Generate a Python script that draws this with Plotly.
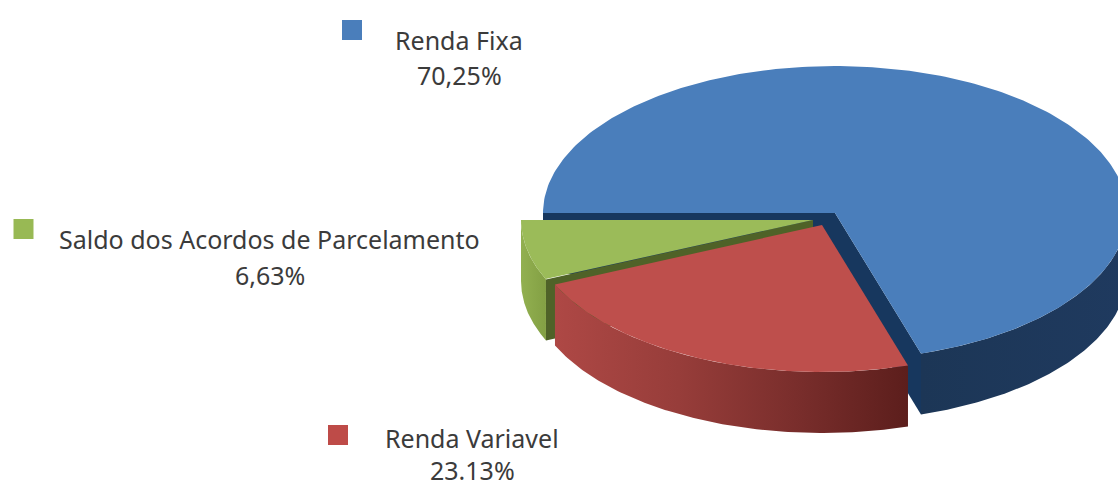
import numpy as np
import plotly.graph_objects as go

# Data
categories = ["Renda Fixa", "Renda Variavel", "Saldo dos Acordos de Parcelamento"]
values = [70.25, 23.13, 6.63]
value_labels = ["70,25%", "23.13%", "6,63%"]

# Pie geometry and styles (pixels of the 1118x482 page)
W, H = 1118, 482
RX, RY, DEPTH = 292, 147, 61
START_DEG = 270
centres = [(835, 213), (822, 225), (813, 220)]
top_cols = ["#4A7EBB", "#BE4F4C", "#9BBB59"]
swatch_cols = ["#4A7EBB", "#BE4B48", "#98B954"]
side_scales = [
    [[0, "#1C3656"], [1, "#1F3A5F"]],
    [[0, "#AE4845"], [0.35, "#973D3A"], [0.7, "#782D2B"], [1, "#5C1E1C"]],
    [[0, "#92B050"], [1, "#83A044"]],
]
cut_cols = ["#17375E", None, "#4F6228"]
swatch_pos = [(352, 30), (338, 435), (23.5, 229)]
label_pos = [(459, 40, 75), (472, 438, 470), (269.5, 239, 275)]
FONT = dict(family="Noto Sans", size=25, color="#3B3B3B")

fractions = np.array(values) / np.sum(values)
edges = np.radians(START_DEG + 360 * np.concatenate([[0], np.cumsum(fractions)]))


def ell(c, a):
    a = np.asarray(a, dtype=float)
    return c[0] + RX * np.sin(a), c[1] - RY * np.cos(a)


def poly(fig, xs, ys, color=None, scale=None):
    kw = dict(x=xs, y=ys, mode="lines", fill="toself", line=dict(width=0),
              hoverinfo="skip", showlegend=False)
    if scale is not None:
        kw["fillgradient"] = dict(type="horizontal", colorscale=scale)
    else:
        kw["fillcolor"] = color
    fig.add_trace(go.Scatter(**kw))


def front_side(fig, c, a0, a1, scale):
    # outer wall: only the part of the arc between 90 and 270 deg faces the viewer
    lo = np.radians(90)
    hi = np.radians(270)
    ranges = []
    for shift in (0, 2 * np.pi, -2 * np.pi):
        s, e = max(a0 + shift, lo), min(a1 + shift, hi)
        if e > s:
            ranges.append((s, e))
    for s, e in ranges:
        t = np.linspace(s, e, 120)
        x, y = ell(c, t)
        poly(fig, np.r_[x, x[::-1]], np.r_[y, y[::-1] + DEPTH], scale=scale)


def cut_face(fig, c, a, color):
    x, y = ell(c, a)
    poly(fig, [c[0], float(x), float(x), c[0]],
         [c[1], float(y), float(y) + DEPTH, c[1] + DEPTH], color=color)


def top_face(fig, c, a0, a1, color):
    t = np.linspace(a0, a1, 240)
    x, y = ell(c, t)
    poly(fig, np.r_[c[0], x, c[0]], np.r_[c[1], y, c[1]], color=color)


fig = go.Figure()

# Blue slice (back)
b0, b1 = edges[0], edges[1]
front_side(fig, centres[0], b0, b1, side_scales[0])
cut_face(fig, centres[0], b1, cut_cols[0])
cut_face(fig, centres[0], b0, cut_cols[0])
top_face(fig, centres[0], b0, b1, top_cols[0])

# Green slice
g0, g1 = edges[2], edges[3]
front_side(fig, centres[2], g0, g1, side_scales[2])
cut_face(fig, centres[2], g0, cut_cols[2])
top_face(fig, centres[2], g0, g1, top_cols[2])

# Red slice (front)
r0, r1 = edges[1], edges[2]
front_side(fig, centres[1], r0, r1, side_scales[1])
top_face(fig, centres[1], r0, r1, top_cols[1])

# Legend swatches
for (sx, sy), col in zip(swatch_pos, swatch_cols):
    fig.add_trace(go.Scatter(x=[sx], y=[sy], mode="markers", hoverinfo="skip", showlegend=False,
                             marker=dict(symbol="square", size=20, color=col, line=dict(width=0))))

# Labels
annotations = []
for name, val, (lx, y1, y2) in zip(categories, value_labels, label_pos):
    for txt, yy in ((name, y1), (val, y2)):
        annotations.append(dict(x=lx, y=yy, xref="x", yref="y", text=txt, showarrow=False,
                                xanchor="center", yanchor="middle", font=FONT))

fig.update_layout(
    width=W, height=H, margin=dict(l=0, r=0, t=0, b=0),
    paper_bgcolor="white", plot_bgcolor="white", showlegend=False,
    xaxis=dict(range=[0, W], visible=False, fixedrange=True),
    yaxis=dict(range=[H, 0], visible=False, fixedrange=True),
    annotations=annotations,
)
fig.write_html("out.html", config=dict(displayModeBar=False),
               post_script="document.body.style.margin='0';document.body.style.overflow='hidden';")
